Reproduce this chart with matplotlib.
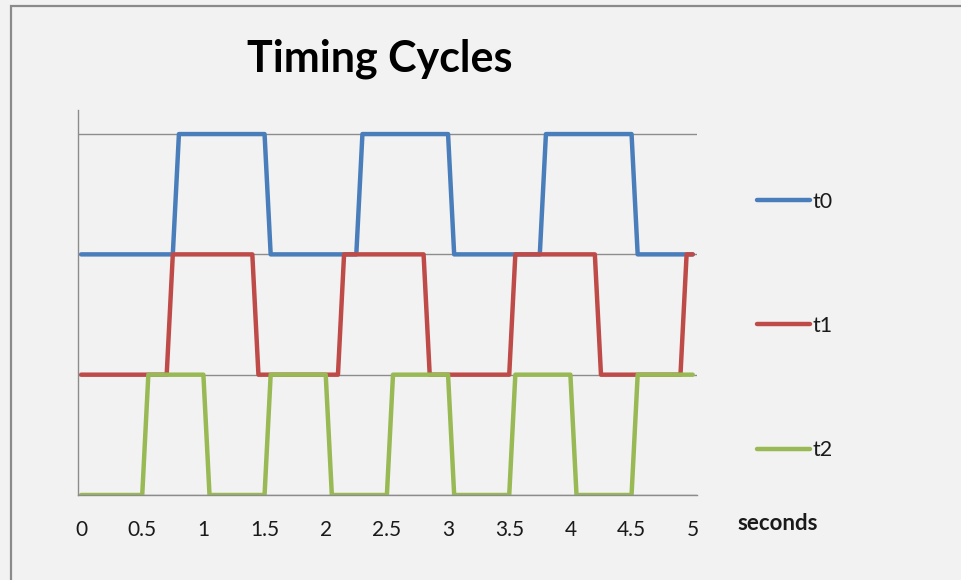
import matplotlib
matplotlib.use("Agg")
import matplotlib.pyplot as plt
from matplotlib.patches import Rectangle

plt.rcParams['font.family'] = ['Lato', 'DejaVu Sans']

# switching edges of the three timing signals (seconds, level)
t0_time = [0, 0.75, 0.8, 1.5, 1.55, 2.25, 2.3, 3.0, 3.05, 3.75, 3.8, 4.5, 4.55, 5]
t0_level = [2, 2, 3, 3, 2, 2, 3, 3, 2, 2, 3, 3, 2, 2]

t1_time = [0, 0.7, 0.75, 1.4, 1.45, 2.1, 2.15, 2.8, 2.85, 3.5, 3.55, 4.2, 4.25, 4.9, 4.95, 5]
t1_level = [1, 1, 2, 2, 1, 1, 2, 2, 1, 1, 2, 2, 1, 1, 2, 2]

t2_time = [0, 0.5, 0.55, 1.0, 1.05, 1.5, 1.55, 2.0, 2.05, 2.5, 2.55, 3.0, 3.05,
           3.5, 3.55, 4.0, 4.05, 4.5, 4.55, 5]
t2_level = [0, 0, 1, 1, 0, 0, 1, 1, 0, 0, 1, 1, 0, 0, 1, 1, 0, 0, 1, 1]

x_ticks = [0, 0.5, 1, 1.5, 2, 2.5, 3, 3.5, 4, 4.5, 5]
x_labels = ['0', '0.5', '1', '1.5', '2', '2.5', '3', '3.5', '4', '4.5', '5']
series = [('t0', t0_time, t0_level, '#4a7ebb'),
          ('t1', t1_time, t1_level, '#be4b48'),
          ('t2', t2_time, t2_level, '#98b954')]

bg = '#f2f2f2'
grid_col = '#8c8c8c'

fig = plt.figure(figsize=(9.61, 5.8), dpi=100, facecolor=bg)
# chart frame
fig.patches.append(Rectangle((11 / 961, -0.1), 1.1, 1 - 6 / 580 + 0.1,
                             transform=fig.transFigure, fill=False,
                             edgecolor='#8a8a8a', linewidth=1.6))

ax = fig.add_axes([78 / 961, 85 / 580, (697 - 78) / 961, (495 - 110) / 580])
ax.set_facecolor(bg)

for name, t, v, c in series:
    ax.plot(t, v, color=c, lw=3.2, label=name,
            solid_joinstyle='round', solid_capstyle='round')

ax.set_xlim(-0.025, 5.035)
ax.set_ylim(0, 3.2)
ax.set_yticks([0, 1, 2, 3])
ax.set_yticklabels([])
ax.yaxis.grid(True, color=grid_col, lw=1)
ax.set_axisbelow(True)
ax.tick_params(axis='y', length=0)
ax.set_xticks(x_ticks)
ax.set_xticklabels(x_labels)
ax.tick_params(axis='x', length=0, pad=18, labelsize=15, labelcolor='#1a1a1a')
for s in ['top', 'right']:
    ax.spines[s].set_visible(False)
for s in ['left', 'bottom']:
    ax.spines[s].set_color(grid_col)
    ax.spines[s].set_linewidth(1)

fig.text(380 / 961, 1 - 59 / 580, 'Timing Cycles', ha='center', va='center',
         fontsize=31, fontweight='bold', color='black')
fig.text(778 / 961, 1 - 523 / 580, 'seconds', ha='center', va='center',
         fontsize=16, fontweight='bold', color='#1a1a1a')

ax.legend(loc='center left', bbox_to_anchor=(757 / 961, 1 - 326 / 580),
          bbox_transform=fig.transFigure, frameon=False, fontsize=15.5,
          handlelength=2.46, handletextpad=0.1, labelspacing=4.85,
          borderpad=0, borderaxespad=0, labelcolor='#1a1a1a')

fig.savefig('out.png', dpi=100, facecolor=bg)
